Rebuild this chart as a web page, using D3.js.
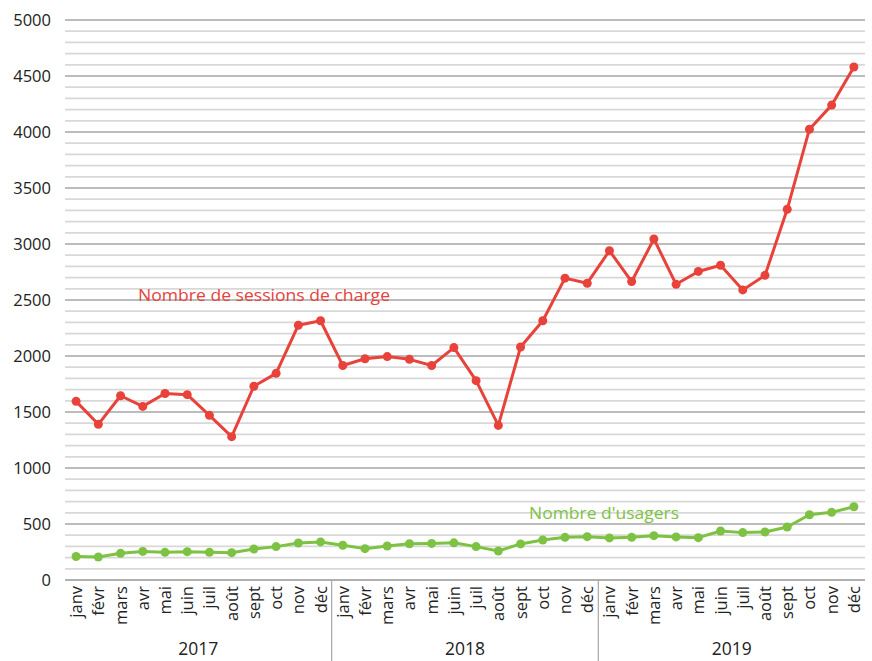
<!DOCTYPE html>
<html>
<head>
<meta charset="utf-8">
<script src="https://cdn.jsdelivr.net/npm/d3@7"></script>
<style>
  body { margin: 0; background: #fff; }
  svg text { font-family: "Open Sans", "Noto Sans", sans-serif; }
</style>
</head>
<body>
<div id="chart"></div>
<script>
"use strict";

var years = ["2017", "2018", "2019"];
var months = ["janv", "févr", "mars", "avr", "mai", "juin", "juil", "août", "sept", "oct", "nov", "déc"];

// Nombre de sessions de charge
var sessions = [
    1595, 1390, 1645, 1550, 1665, 1655, 1470, 1280, 1730, 1845, 2275, 2315,
    1915, 1975, 1995, 1970, 1915, 2075, 1780, 1380, 2080, 2315, 2695, 2650,
    2940, 2665, 3045, 2640, 2755, 2810, 2590, 2720, 3310, 4025, 4240, 4580
];
// Nombre d'usagers
var usagers = [
    210, 205, 238, 255, 247, 253, 247, 244, 277, 298, 330, 340,
    310, 280, 304, 324, 327, 332, 298, 259, 322, 357, 381, 387,
    376, 381, 396, 385, 378, 437, 423, 429, 473, 583, 604, 654
];
var yTicks = [0, 500, 1000, 1500, 2000, 2500, 3000, 3500, 4000, 4500, 5000];

var red = "#e8423b", green = "#7dc242";

var margin = {top: 20, left: 65, right: 7, bottom: 81};
var width = 872 - margin.left - margin.right;
var height = 661 - margin.top - margin.bottom;

var svg = d3.select("#chart")
    .append("svg")
    .attr("width", 872)
    .attr("height", 661)
    .append("g")
    .attr("transform", "translate(" + margin.left + "," + margin.top + ")");

// one key per month
var keys = [];
years.forEach(yr => months.forEach(m => keys.push(yr + "-" + m)));

var x = d3.scaleBand().domain(keys).range([0, width]);
var y = d3.scaleLinear().domain([0, 5000]).range([height, 0]);

// grid lines every 100
svg.append("g")
    .selectAll("line")
    .data(d3.range(100, 5001, 100))
    .enter()
    .append("line")
    .attr("x1", 0)
    .attr("x2", width)
    .attr("y1", d => y(d))
    .attr("y2", d => y(d))
    .attr("stroke", d => d % 500 == 0 ? "#bcbcbc" : "#d8d8d8")
    .attr("stroke-width", d => d % 500 == 0 ? 2.2 : 1.8);

// zero line
svg.append("line")
    .attr("x1", 0).attr("x2", width)
    .attr("y1", y(0)).attr("y2", y(0))
    .attr("stroke", "#b0b0b0")
    .attr("stroke-width", 2);

// y labels
svg.append("g")
    .selectAll("text")
    .data(yTicks)
    .enter()
    .append("text")
    .attr("x", -14)
    .attr("y", d => y(d))
    .attr("dy", "0.35em")
    .attr("text-anchor", "end")
    .style("font-size", "16.5px")
    .attr("fill", "#222")
    .text(d => d);

// month labels
svg.append("g")
    .selectAll("text")
    .data(keys)
    .enter()
    .append("text")
    .attr("transform", d => "translate(" + (x(d) + x.bandwidth() / 2) + "," + (height + 6) + ") rotate(-90)")
    .attr("dy", "0.36em")
    .attr("text-anchor", "end")
    .style("font-size", "16.5px")
    .attr("fill", "#222")
    .text(d => d.split("-")[1]);

// year separators and labels
var yearW = x.bandwidth() * 12;
svg.append("g")
    .selectAll("line")
    .data([1, 2])
    .enter()
    .append("line")
    .attr("x1", d => d * yearW)
    .attr("x2", d => d * yearW)
    .attr("y1", height)
    .attr("y2", height + margin.bottom)
    .attr("stroke", "#a8a8a8")
    .attr("stroke-width", 1.2);

svg.append("g")
    .selectAll("text")
    .data(years)
    .enter()
    .append("text")
    .attr("x", (d, i) => i * yearW + yearW / 2)
    .attr("y", height + 69)
    .attr("dy", "0.35em")
    .attr("text-anchor", "middle")
    .style("font-size", "17.5px")
    .attr("fill", "#222")
    .text(d => d);

function drawSeries(values, color) {
    var line = d3.line()
        .x((d, i) => x(keys[i]) + x.bandwidth() / 2)
        .y(d => y(d));
    svg.append("path")
        .datum(values)
        .attr("fill", "none")
        .attr("stroke", color)
        .attr("stroke-width", 3)
        .attr("stroke-linejoin", "round")
        .attr("d", line);
    svg.append("g")
        .selectAll("circle")
        .data(values)
        .enter()
        .append("circle")
        .attr("cx", (d, i) => x(keys[i]) + x.bandwidth() / 2)
        .attr("cy", d => y(d))
        .attr("r", 4.5)
        .attr("fill", color);
}

drawSeries(sessions, red);
drawSeries(usagers, green);

// series names
svg.append("text")
    .attr("x", 138 - margin.left)
    .attr("y", 295 - margin.top)
    .attr("dy", "0.35em")
    .attr("textLength", 252)
    .attr("lengthAdjust", "spacingAndGlyphs")
    .style("font-size", "17px")
    .attr("fill", red)
    .text("Nombre de sessions de charge");

svg.append("text")
    .attr("x", 529 - margin.left)
    .attr("y", 513 - margin.top)
    .attr("dy", "0.35em")
    .attr("textLength", 150)
    .attr("lengthAdjust", "spacingAndGlyphs")
    .style("font-size", "17px")
    .attr("fill", green)
    .text("Nombre d'usagers");
</script>
</body>
</html>
